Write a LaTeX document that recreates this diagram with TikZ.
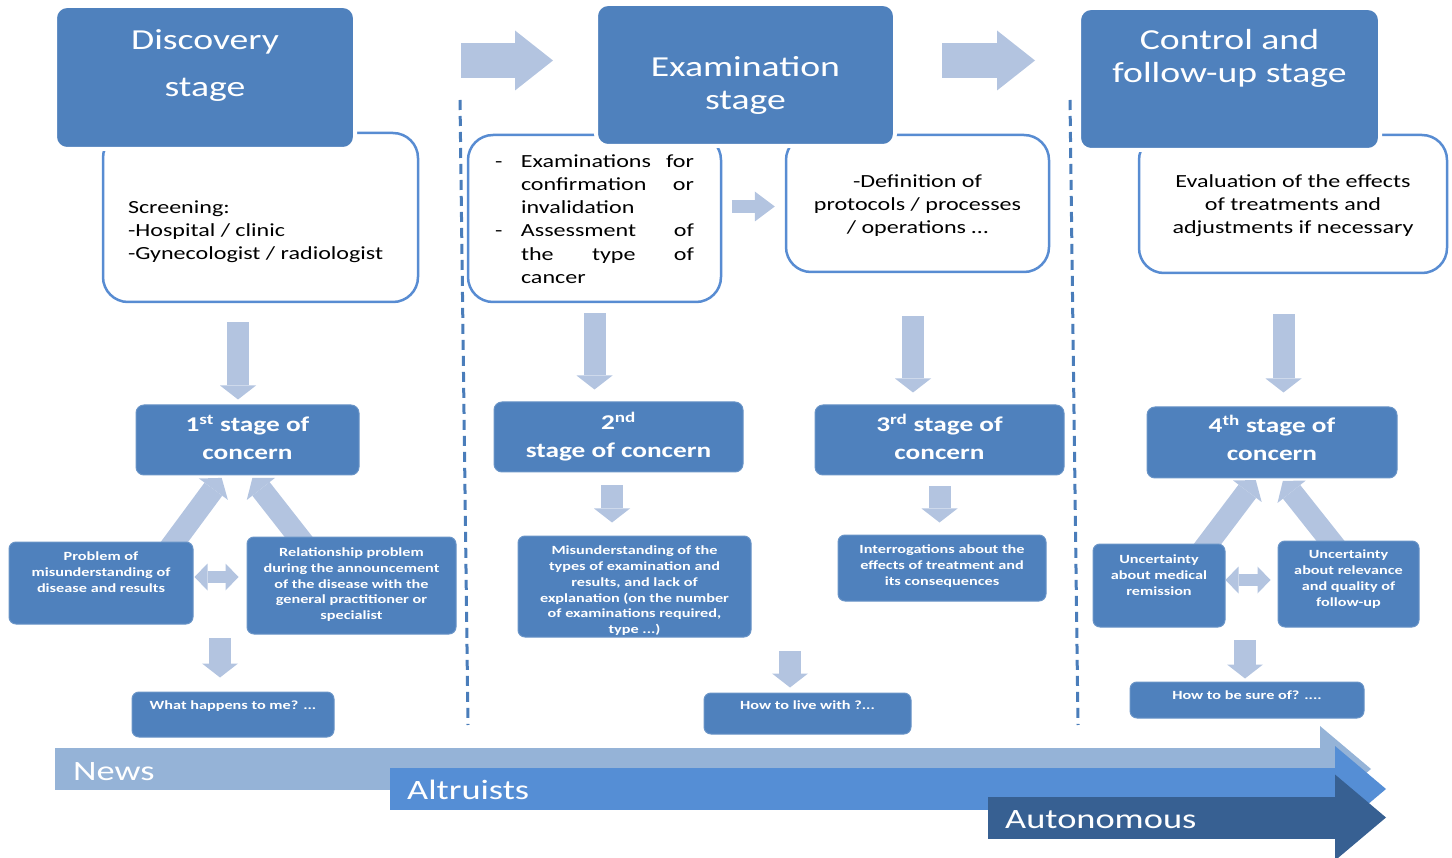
\documentclass[tikz,border=0pt]{standalone}
\usepackage{fontspec}
\setmainfont{Carlito}[FakeStretch=1.3]
\usetikzlibrary{shapes,arrows.meta,calc}
\definecolor{boxblue}{RGB}{79,129,189}
\definecolor{lineblue}{RGB}{88,140,210}
\definecolor{arrowblue}{RGB}{179,196,224}
\definecolor{dashblue}{RGB}{74,125,186}
\definecolor{newsblue}{RGB}{149,179,215}
\definecolor{altblue}{RGB}{85,142,213}
\definecolor{autoblue}{RGB}{55,96,146}
\newcommand{\boxtext}[4]{\parbox[c][#1][t]{#2}{\centering\vspace*{#3}\strut#4}}
\newcommand{\boxtextl}[4]{\parbox[c][#1][t]{#2}{\raggedright\vspace*{#3}\strut#4}}
\tikzstyle{stagehead} = [rectangle, rounded corners=12pt, fill=boxblue, draw=white,
    line width=4pt, text=white, inner sep=0pt, font=\fontsize{29}{35}\selectfont]
\tikzstyle{info} = [rectangle, rounded corners=25pt, fill=white, draw=lineblue,
    line width=2.5pt, inner sep=0pt, font=\fontsize{18.5}{23.3}\selectfont]
\tikzstyle{concern} = [rectangle, rounded corners=8pt, fill=boxblue, draw=boxblue!85!white,
    line width=1pt, text=white, inner sep=0pt, font=\bfseries\fontsize{21}{27.5}\selectfont]
\tikzstyle{issue} = [concern, rounded corners=7pt, font=\bfseries\fontsize{12.5}{15.7}\selectfont]
\tikzstyle{fat} = [draw=arrowblue, line width=22pt, -{Triangle[length=14pt,width=36pt,line width=0pt]}]
\tikzstyle{wide} = [draw=arrowblue, line width=35pt, -{Triangle[length=38pt,width=60pt,line width=0pt]}]
\tikzstyle{thin} = [draw=arrowblue, line width=13pt, -{Triangle[length=20pt,width=30pt,line width=0pt]}]
\tikzstyle{both} = [draw=arrowblue, line width=12pt,
    {Triangle[length=13pt,width=27pt,line width=0pt]}-{Triangle[length=13pt,width=27pt,line width=0pt]}]
\tikzstyle{band} = [line width=42pt, -{Triangle[length=51pt,width=86pt,line width=0pt]}]
\tikzstyle{bandtext} = [text=white, inner sep=0pt, anchor=base west, font=\fontsize{28}{34}\selectfont]
\tikzstyle{divider} = [draw=dashblue, line width=3pt, dash pattern=on 10pt off 6pt]

\begin{document}
\begin{tikzpicture}[x=1pt, y=-1pt]
  \useasboundingbox (0,0) rectangle (1452,858);
  % Place nodes
  \node [info] (screening) at (260.5,217.5) [inner xsep=25pt]
        {\boxtextl{169pt}{265pt}{63.7pt}{Screening:\\-Hospital / clinic\\-Gynecologist / radiologist}};
  \node [info] (confirm) at (594.5,218.5) [inner xsep=27pt]
        {\boxtextl{167pt}{199pt}{15.7pt}{\makebox[26pt][l]{-}Examinations\hfill for\\
        \hspace*{26pt}confirmation\hfill or\\\hspace*{26pt}invalidation\\
        \makebox[26pt][l]{-}Assessment\hfill of\\\hspace*{26pt}the\hfill type\hfill of\\
        \hspace*{26pt}cancer}};
  \node [info] (protocols) at (917.5,203.5)
        {\boxtext{137pt}{263pt}{35.7pt}{-Definition of\\protocols / processes\\/ operations …}};
  \node [info] (evaluation) at (1293,204)
        {\boxtext{138pt}{308pt}{35.7pt}{Evaluation of the effects\\of treatments and\\adjustments if necessary}};

  \node [stagehead] (discovery) at (205,77.5)
        {\boxtext{143pt}{300pt}{19pt}{Discovery\\[12pt]stage}};
  \node [stagehead] (examination) at (745.5,75)
        {\boxtext{142pt}{299pt}{48.5pt}{Examination\\[-2pt]stage}};
  \node [stagehead] (control) at (1229.5,79)
        {\boxtext{142pt}{301pt}{17.5pt}{Control and\\[-2pt]follow-up stage}};

  \node [concern] (first) at (247.5,440) {\boxtext{70pt}{223pt}{7.75pt}{1\textsuperscript{st} stage of\\concern}};
  \node [concern] (second) at (618.5,437) {\boxtext{70pt}{249pt}{8.75pt}{2\textsuperscript{nd}\\stage of concern}};
  \node [concern] (third) at (939.5,440) {\boxtext{70pt}{249pt}{7.75pt}{3\textsuperscript{rd} stage of\\concern}};
  \node [concern] (fourth) at (1272,442.5) {\boxtext{71pt}{250pt}{6.75pt}{4\textsuperscript{th} stage of\\concern}};

  % arrows up into the first and fourth stage
  \coordinate (probtail) at (167,552);
  \coordinate (reltail) at (306.5,547);
  \coordinate (remtail) at (1200,554);
  \coordinate (reltail2) at (1338.5,551);
  \path [fat, shorten >=3pt] (probtail) -- ([xshift=-24pt]first.south);
  \path [fat, shorten >=3pt] (reltail) -- ([xshift=3pt]first.south);
  \path [fat, shorten >=2pt] (remtail) -- ([xshift=-15pt]fourth.south);
  \path [fat, shorten >=3pt] (reltail2) -- ([xshift=9pt]fourth.south);

  \node [issue] (problem) at (101,583)
        {\boxtext{82pt}{184pt}{7.7pt}{Problem of\\misunderstanding of\\disease and results}};
  \node [issue] (relation) at (351.5,585.5)
        {\boxtext{97pt}{209pt}{8.7pt}{Relationship problem\\during the announcement\\of the disease with the\\general practitioner or\\specialist}};
  \node [issue] (happens) at (233,714.5) {\boxtext{45pt}{202pt}{7pt}{What happens to me? ...}};
  \node [issue] (misunder) at (634.5,586.5)
        {\boxtext{101pt}{233pt}{8pt}{Misunderstanding of the\\types of examination and\\results, and lack  of\\explanation (on the number\\of examinations required,\\type ...)}};
  \node [issue] (interrog) at (942,568)
        {\boxtext{66pt}{208pt}{8pt}{Interrogations about the\\effects of treatment and\\its consequences}};
  \node [issue] (livewith) at (807.5,713.5) {\boxtext{41pt}{207pt}{6pt}{How to live with ?...}};
  \node [issue] (remission) at (1159,585.5)
        {\boxtext{83pt}{132pt}{9pt}{Uncertainty\\about medical\\remission}};
  \node [issue] (relevance) at (1348.5,584)
        {\boxtext{86pt}{141pt}{7pt}{Uncertainty\\about relevance\\and quality of\\follow-up}};
  \node [issue] (surewith) at (1247,700) {\boxtext{36pt}{234pt}{7pt}{How to be sure of? ....}};

  \coordinate (happentail) at (220,638);
  \coordinate (livetail) at (790,651);
  \coordinate (suretail) at (1245,640);

  \path [wide, shorten <=104pt, shorten >=41pt] ([yshift=17pt]discovery.east) -- ([yshift=14.5pt]examination.west);
  \path [wide, shorten <=45pt, shorten >=42pt] ([yshift=14.5pt]examination.east) -- ([yshift=18.5pt]control.west);
  \path [thin, shorten <=9.5pt, shorten >=10pt] ([yshift=12pt]confirm.east) -- ([yshift=-3pt]protocols.west);

  \path [fat, shorten <=19pt, shorten >=5pt] ([xshift=-22.5pt]screening.south) -- ([xshift=-9.5pt]first.north);
  \path [fat, shorten <=10pt, shorten >=12pt] (confirm.south) -- ([xshift=-24pt]second.north);
  \path [fat, shorten <=43pt, shorten >=12pt] ([xshift=-4.5pt]protocols.south) -- ([xshift=-26.5pt]third.north);
  \path [fat, shorten <=40pt, shorten >=14pt] ([xshift=-9.5pt]evaluation.south) -- ([xshift=11.5pt]fourth.north);
  \path [fat, shorten <=13pt, shorten >=13pt] ([xshift=-6.5pt]second.south) -- ([xshift=-22.5pt]misunder.north);
  \path [fat, shorten <=11pt, shorten >=12pt] (third.south) -- ([xshift=-2.5pt]interrog.north);
  \path [fat, shorten >=14pt] (happentail) -- (happentail |- happens.north);
  \path [fat, shorten >=5pt] (livetail) -- (livetail |- livewith.north);
  \path [fat, shorten >=3pt] (suretail) -- (suretail |- surewith.north);

  \path [both, shorten <=1pt, shorten >=8pt] ([yshift=6pt]problem.east) -- ([yshift=8.5pt]relation.west);
  \path [both, shorten >=7pt] ([yshift=5.5pt]remission.east) -- ([yshift=4pt]relevance.west);

  % stage separators
  \draw [divider] (460,100) -- (468,725);
  \draw [divider] (1070,100) -- (1078,725);

  % bottom bands
  \coordinate (newsstart) at (55,769);
  \coordinate (newsend) at (1371,769);
  \coordinate (altstart) at (390,789);
  \coordinate (altend) at (1386,789);
  \coordinate (autostart) at (988,817.5);
  \coordinate (autoend) at (1386,817.5);
  \path [band, draw=newsblue] (newsstart) -- (newsend);
  \path [band, draw=altblue] (altstart) -- (altend);
  \path [band, draw=autoblue] (autostart) -- (autoend);
  \node [bandtext] (news) at (73,780) {News};
  \node [bandtext] (altruists) at (407,799) {Altruists};
  \node [bandtext] (autonomous) at (1005,828) {Autonomous};
\end{tikzpicture}
\end{document}
